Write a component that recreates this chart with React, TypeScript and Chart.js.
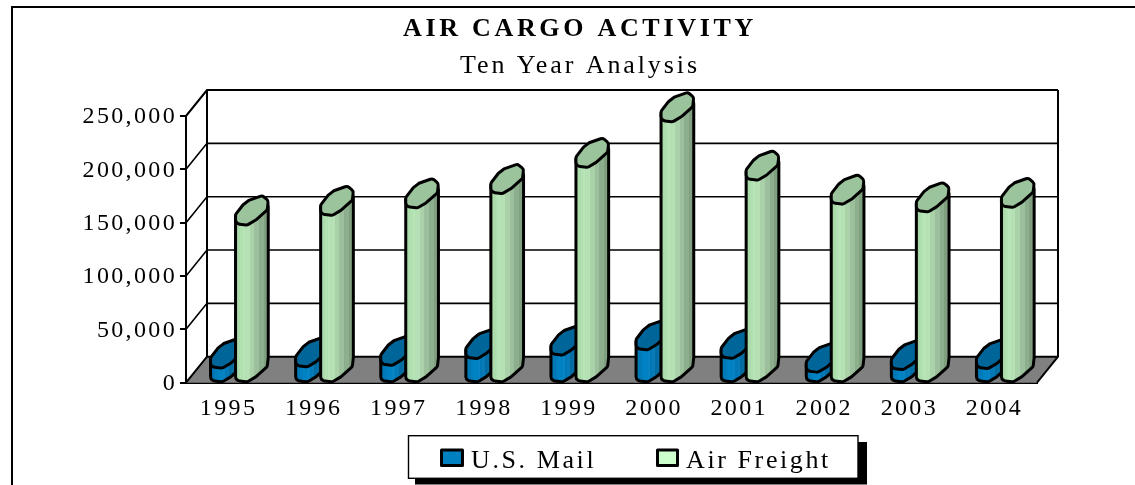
import React, { useEffect, useRef } from "react";
import { Chart, registerables } from "chart.js";

Chart.register(...registerables);

const years = ["1995", "1996", "1997", "1998", "1999", "2000", "2001", "2002", "2003", "2004"];
const usMail = [13800, 15000, 16500, 22800, 26000, 31000, 23000, 10000, 12500, 13500];
const airFreight = [148000, 157000, 164000, 177500, 202000, 244800, 190000, 167500, 160300, 164500];
const titleText = "AIR CARGO ACTIVITY";
const subtitleText = "Ten Year Analysis";

const SERIF = "'Liberation Serif', 'Times New Roman', serif";
const TICK_SPACING = "2.35px";
const DEPTH_X = 21;
const DEPTH_Y = 26;
const LINE = "#000000";

const skins = [
  { swatch: "#0080C0", cap: "#006699", stops: [[0, 114, 174], [0, 132, 198], [0, 118, 180], [0, 96, 143], [0, 79, 120]] },
  { swatch: "#CCFFCC", cap: "#9CC49C", stops: [[166, 216, 166], [184, 230, 184], [166, 206, 166], [143, 176, 143], [120, 152, 120]] },
];

// outline of a column's cap, as fractions of the bar width, measured from its
// left extreme and from its front-most point
const CAP = [
  [0, 0.108], [0.132, 0.03], [0.468, -0.01], [0.82, 0.2], [1.268, 0.6], [1.308, 0.972],
  [1.068, 1.17], [0.532, 0.98], [0.3, 0.8], [0, 0.412],
];
const BODY_BOTTOM = CAP.slice(0, 5);

function roundedPoly(ctx: CanvasRenderingContext2D, pts: number[][], r: number) {
  const n = pts.length;
  const mid = (a: number[], b: number[]) => [(a[0] + b[0]) / 2, (a[1] + b[1]) / 2];
  const s = mid(pts[n - 1], pts[0]);
  ctx.beginPath();
  ctx.moveTo(s[0], s[1]);
  for (let i = 0; i < n; i++) {
    const p = pts[i];
    const q = pts[(i + 1) % n];
    ctx.arcTo(p[0], p[1], q[0], q[1], r);
  }
  ctx.closePath();
}

function bandGradient(ctx: CanvasRenderingContext2D, x0: number, x1: number, stops: number[][]) {
  const g = ctx.createLinearGradient(x0, 0, x1, 0);
  const bands = 14;
  for (let b = 0; b < bands; b++) {
    const f = (b / (bands - 1)) * (stops.length - 1);
    const i = Math.min(Math.floor(f), stops.length - 2);
    const t = f - i;
    const shade = b > 4 && b % 2 ? 8 : 0;
    const c = [0, 1, 2].map((k) => Math.round(stops[i][k] + (stops[i + 1][k] - stops[i][k]) * t) + shade);
    const col = `rgb(${c[0]},${c[1]},${c[2]})`;
    g.addColorStop(b / bands, col);
    g.addColorStop((b + 1) / bands, col);
  }
  return g;
}

function drawColumn(
  ctx: CanvasRenderingContext2D,
  bar: any,
  skin: (typeof skins)[number],
  wallYs: number[],
) {
  const w = bar.width;
  const left = bar.x - w * 0.22;
  const top = bar.y;
  const base = bar.base;
  const right = left + w * 1.308;
  const capP = CAP.map(([a, b]) => [left + a * w, top - b * w]);

  ctx.save();
  ctx.lineJoin = "round";
  ctx.lineWidth = 3;
  ctx.strokeStyle = LINE;

  // body
  const bodyP = [
    [left, top - 0.412 * w],
    ...BODY_BOTTOM.map(([a, b]) => [left + a * w, base - b * w]),
    [right, base - 0.972 * w],
    [right, top - 0.972 * w],
  ];
  roundedPoly(ctx, bodyP, 4);
  ctx.fillStyle = bandGradient(ctx, left, right, skin.stops);
  ctx.fill();

  // the wall's gridlines show faintly through the right of the column
  ctx.save();
  ctx.clip();
  ctx.setLineDash([2, 3]);
  ctx.lineWidth = 1;
  ctx.strokeStyle = "rgba(40,60,40,0.4)";
  wallYs.forEach((py) => {
    if (py > top - 0.5 * w) return;
    ctx.beginPath();
    ctx.moveTo(left + w * 0.6, py);
    ctx.lineTo(right, py);
    ctx.stroke();
  });
  ctx.restore();

  roundedPoly(ctx, bodyP, 4);
  ctx.stroke();

  // cap
  roundedPoly(ctx, capP, 4);
  ctx.fillStyle = skin.cap;
  ctx.fill();
  ctx.stroke();
  ctx.restore();
}

const spacing = {
  id: "spacing",
  beforeLayout(chart: any) {
    chart.ctx.letterSpacing = TICK_SPACING;
  },
  beforeDraw(chart: any) {
    const { ctx } = chart;
    ctx.letterSpacing = TICK_SPACING;
    chart.boxes.forEach((b: any) => {
      const txt = b.options && b.options.text;
      if (txt !== titleText && txt !== subtitleText) return;
      if (b.__wrapped) return;
      b.__wrapped = true;
      const orig = b.draw;
      b.draw = function (...args: any[]) {
        ctx.letterSpacing = txt === titleText ? "3.7px" : "2.9px";
        orig.apply(this, args);
        ctx.letterSpacing = TICK_SPACING;
      };
    });
    const yScale = chart.scales.y;
    if (!yScale.__wrapped) {
      yScale.__wrapped = true;
      const origLabels = yScale.drawLabels;
      yScale.drawLabels = function (...args: any[]) {
        ctx.save();
        ctx.translate(0, 1);
        origLabels.apply(this, args);
        ctx.restore();
      };
    }
    // the outer frame runs along the top and left of the page
    ctx.save();
    ctx.strokeStyle = LINE;
    ctx.lineWidth = 2;
    ctx.beginPath();
    ctx.moveTo(12, 486);
    ctx.lineTo(12, 7);
    ctx.lineTo(1136, 7);
    ctx.stroke();
    ctx.restore();
  },
};

const walls = {
  id: "walls",
  beforeDatasetsDraw(chart: any) {
    const { ctx, chartArea: a, scales } = chart;
    const y = scales.y;
    const x0 = a.left;
    const x1 = a.right;
    const y0 = y.getPixelForValue(0);
    ctx.save();
    ctx.fillStyle = "#808080";
    ctx.beginPath();
    ctx.moveTo(x0, y0);
    ctx.lineTo(x1, y0);
    ctx.lineTo(x1 + DEPTH_X, y0 - DEPTH_Y);
    ctx.lineTo(x0 + DEPTH_X, y0 - DEPTH_Y);
    ctx.closePath();
    ctx.fill();
    ctx.strokeStyle = LINE;
    y.ticks.forEach((t: any, i: number) => {
      const py = y.getPixelForValue(t.value);
      ctx.lineWidth = i === y.ticks.length - 1 || i === 0 ? 2 : 1.6;
      ctx.beginPath();
      ctx.moveTo(x0, py);
      ctx.lineTo(x0 + DEPTH_X, py - DEPTH_Y);
      ctx.lineTo(x1 + DEPTH_X, py - DEPTH_Y);
      ctx.stroke();
    });
    ctx.lineWidth = 2;
    ctx.beginPath();
    ctx.moveTo(x0 + DEPTH_X, a.top - DEPTH_Y);
    ctx.lineTo(x0 + DEPTH_X, y0 - DEPTH_Y);
    ctx.moveTo(x1 + DEPTH_X, a.top - DEPTH_Y);
    ctx.lineTo(x1 + DEPTH_X, y0 - DEPTH_Y);
    ctx.lineTo(x1, y0);
    ctx.stroke();
    ctx.restore();
  },
};

const columns = {
  id: "columns",
  afterDatasetsDraw(chart: any) {
    const { ctx, scales } = chart;
    const wallYs = scales.y.ticks.map((t: any) => scales.y.getPixelForValue(t.value) - DEPTH_Y);
    const m0 = chart.getDatasetMeta(0).data;
    const m1 = chart.getDatasetMeta(1).data;
    m0.forEach((bar: any, i: number) => {
      drawColumn(ctx, bar, skins[0], []);
      drawColumn(ctx, m1[i], skins[1], wallYs);
    });
  },
};

const boxLegend = {
  id: "boxLegend",
  afterDraw(chart: any) {
    const { ctx } = chart;
    ctx.save();
    ctx.fillStyle = LINE;
    ctx.fillRect(415, 442, 452, 42.5);
    ctx.fillStyle = "#FFFFFF";
    ctx.strokeStyle = LINE;
    ctx.lineWidth = 1.4;
    ctx.fillRect(408.5, 435.7, 449.5, 42.6);
    ctx.strokeRect(408.5, 435.7, 449.5, 42.6);
    const items = [
      { x: 441.5, w: 21, text: 471 },
      { x: 657.5, w: 20, text: 686 },
    ];
    ctx.letterSpacing = "2.6px";
    ctx.font = `26px ${SERIF}`;
    ctx.textBaseline = "alphabetic";
    ctx.textAlign = "left";
    items.forEach((it, i) => {
      ctx.lineWidth = 3;
      ctx.lineJoin = "round";
      ctx.fillStyle = skins[i].swatch;
      ctx.fillRect(it.x, 450, it.w, 15.5);
      ctx.strokeRect(it.x, 450, it.w, 15.5);
      ctx.fillStyle = LINE;
      ctx.fillText(chart.data.datasets[i].label, it.text, 468);
    });
    ctx.letterSpacing = TICK_SPACING;
    ctx.restore();
  },
};

export default function App() {
  const ref = useRef<HTMLCanvasElement>(null);
  useEffect(() => {
    const chart = new Chart(ref.current as HTMLCanvasElement, {
      type: "bar",
      data: {
        labels: years,
        datasets: [
          { label: "U.S. Mail", data: usMail, backgroundColor: "transparent", borderWidth: 0 },
          { label: "Air Freight", data: airFreight, backgroundColor: "transparent", borderWidth: 0 },
        ],
      },
      plugins: [spacing, walls, columns, boxLegend],
      options: {
        responsive: false,
        animation: false,
        events: [],
        categoryPercentage: 0.5875,
        barPercentage: 1,
        layout: { padding: { left: 25, right: 0, top: 0, bottom: 0 } },
        plugins: {
          legend: { display: false },
          tooltip: { enabled: false },
          title: {
            display: true,
            text: titleText,
            color: LINE,
            font: { family: SERIF, size: 26, weight: "bold", lineHeight: 1.2 },
            padding: { top: 14, bottom: 0 },
          },
          subtitle: {
            display: true,
            text: subtitleText,
            color: LINE,
            font: { family: SERIF, size: 26, weight: "normal", lineHeight: 1.2 },
            padding: { top: 5.4, bottom: 34.2 },
          },
        },
        scales: {
          x: {
            grid: { display: false },
            border: { color: LINE, width: 2 },
            ticks: { color: LINE, font: { family: SERIF, size: 24 }, padding: 4, maxRotation: 0, autoSkip: false },
            afterFit(s: any) {
              s.height = 102.3;
            },
          },
          y: {
            min: 0,
            max: 250000,
            grid: { drawOnChartArea: false, color: LINE, lineWidth: 2, tickLength: 6 },
            border: { color: LINE, width: 2 },
            ticks: {
              stepSize: 50000,
              color: LINE,
              padding: 3,
              font: { family: SERIF, size: 24 },
              callback: (v: any) => Number(v).toLocaleString("en-US"),
            },
            afterFit(s: any) {
              s.width = 161;
            },
          },
          y2: {
            position: "right",
            display: true,
            grid: { display: false },
            border: { display: false },
            ticks: { display: false },
            afterFit(s: any) {
              s.width = 98;
            },
          },
        },
      } as any,
    });
    return () => chart.destroy();
  }, []);
  return (
    <div style={{ position: "fixed", left: 0, top: 0, width: 1135, height: 485, background: "#fff" }}>
      <canvas ref={ref} width={1135} height={485} style={{ display: "block" }} />
    </div>
  );
}
